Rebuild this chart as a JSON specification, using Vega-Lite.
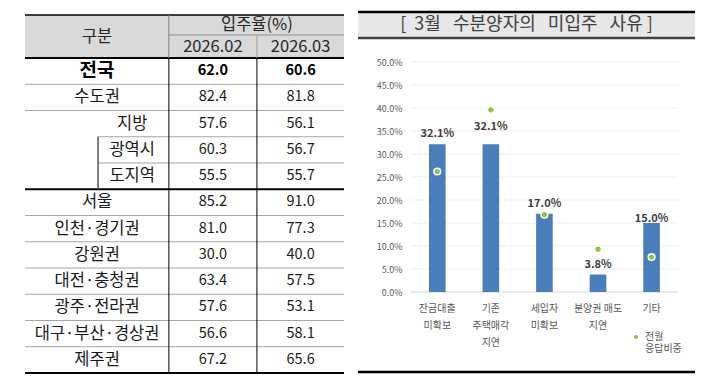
{
  "$schema": "https://vega.github.io/schema/vega-lite/v6.json",
  "background": "white",
  "padding": {"left": 23, "top": 10, "right": 0, "bottom": 0},
  "config": {
    "view": {"stroke": null},
    "font": "Noto Sans CJK KR",
    "text": {"font": "Noto Sans CJK KR"},
    "axis": {"labelFont": "Noto Sans CJK KR"},
    "legend": {"labelFont": "Noto Sans CJK KR"}
  },
  "datasets": {
    "occupancy": [
      {"region": "전국", "m02": 62.0, "m03": 60.6},
      {"region": "수도권", "m02": 82.4, "m03": 81.8},
      {"region": "지방", "m02": 57.6, "m03": 56.1},
      {"region": "광역시", "m02": 60.3, "m03": 56.7},
      {"region": "도지역", "m02": 55.5, "m03": 55.7},
      {"region": "서울", "m02": 85.2, "m03": 91.0},
      {"region": "인천·경기권", "m02": 81.0, "m03": 77.3},
      {"region": "강원권", "m02": 30.0, "m03": 40.0},
      {"region": "대전·충청권", "m02": 63.4, "m03": 57.5},
      {"region": "광주·전라권", "m02": 57.6, "m03": 53.1},
      {"region": "대구·부산·경상권", "m02": 56.6, "m03": 58.1},
      {"region": "제주권", "m02": 67.2, "m03": 65.6}
    ],
    "header": [
      {"h": "구분", "col": "label"},
      {"h": "입주율(%)", "col": "group"},
      {"h": "2026.02", "col": "m02"},
      {"h": "2026.03", "col": "m03"}
    ],
    "reasons": [
      {"reason": "잔금대출 미확보", "share": 0.321, "prev": 0.262},
      {"reason": "기존 주택매각 지연", "share": 0.321, "prev": 0.396},
      {"reason": "세입자 미확보", "share": 0.170, "prev": 0.168},
      {"reason": "분양권 매도 지연", "share": 0.038, "prev": 0.093},
      {"reason": "기타", "share": 0.150, "prev": 0.076}
    ],
    "ticks": [
      {"tick": 0}, {"tick": 0.05}, {"tick": 0.1}, {"tick": 0.15}, {"tick": 0.2}, {"tick": 0.25},
      {"tick": 0.3}, {"tick": 0.35}, {"tick": 0.4}, {"tick": 0.45}, {"tick": 0.5}
    ],
    "title": [{"title": "[\u00a0\u00a03월\u00a0\u00a0\u00a0수분양자의\u00a0\u00a0\u00a0미입주\u00a0\u00a0\u00a0사유\u00a0]"}]
  },
  "spacing": 10,
  "hconcat": [
    {
      "spacing": 0,
      "bounds": "flush",
      "vconcat": [
        {
          "width": 319,
          "height": 46,
          "data": {"name": "header"},
          "layer": [
            {
              "transform": [{"filter": "datum.col === 'label'"}],
              "mark": {"type": "rect", "color": "#d9d9d9"},
              "encoding": {
                "x": {"datum": 0, "type": "quantitative", "scale": {"domain": [0, 100]}, "axis": null},
                "x2": {"datum": 100},
                "y": {"datum": 0, "type": "quantitative", "scale": {"domain": [0, 2.14]}, "axis": null},
                "y2": {"datum": 2}
              }
            },
            {
              "transform": [{"filter": "datum.col === 'label'"}],
              "mark": {"type": "rule", "color": "#000000", "strokeWidth": 1.5},
              "encoding": {
                "x": {"datum": 0, "type": "quantitative", "scale": {"domain": [0, 100]}, "axis": null},
                "x2": {"datum": 100},
                "y": {"datum": 2, "type": "quantitative", "scale": {"domain": [0, 2.14]}, "axis": null}
              }
            },
            {
              "transform": [{"filter": "datum.col === 'label'"}],
              "mark": {"type": "rule", "color": "#000000", "strokeWidth": 2.2},
              "encoding": {
                "x": {"datum": 0, "type": "quantitative", "scale": {"domain": [0, 100]}, "axis": null},
                "x2": {"datum": 100},
                "y": {"datum": 0, "type": "quantitative", "scale": {"domain": [0, 2.14]}, "axis": null}
              }
            },
            {
              "transform": [{"filter": "datum.col === 'label'"}],
              "mark": {"type": "rule", "color": "#7f7f7f", "strokeWidth": 1},
              "encoding": {
                "x": {"datum": 45.1, "type": "quantitative", "scale": {"domain": [0, 100]}, "axis": null},
                "y": {"datum": 0, "type": "quantitative", "scale": {"domain": [0, 2.14]}, "axis": null},
                "y2": {"datum": 2}
              }
            },
            {
              "transform": [{"filter": "datum.col === 'label'"}],
              "mark": {"type": "rule", "color": "#8c8c8c", "strokeWidth": 1},
              "encoding": {
                "x": {"datum": 45.1, "type": "quantitative", "scale": {"domain": [0, 100]}, "axis": null},
                "x2": {"datum": 100},
                "y": {"datum": 1.07, "type": "quantitative", "scale": {"domain": [0, 2.14]}, "axis": null}
              }
            },
            {
              "transform": [{"filter": "datum.col === 'label'"}],
              "mark": {"type": "rule", "color": "#9a9a9a", "strokeWidth": 1},
              "encoding": {
                "x": {"datum": 72.7, "type": "quantitative", "scale": {"domain": [0, 100]}, "axis": null},
                "y": {"datum": 0, "type": "quantitative", "scale": {"domain": [0, 2.14]}, "axis": null},
                "y2": {"datum": 1.07}
              }
            },
            {
              "transform": [{"filter": "datum.col === 'label'"}],
              "mark": {"type": "text", "fontSize": 16.5, "color": "#262626", "baseline": "middle"},
              "encoding": {
                "x": {"datum": 22.6, "type": "quantitative", "scale": {"domain": [0, 100]}, "axis": null},
                "y": {"datum": 0.98, "type": "quantitative", "scale": {"domain": [0, 2.14]}, "axis": null},
                "text": {"field": "h"}
              }
            },
            {
              "transform": [{"filter": "datum.col === 'group'"}],
              "mark": {"type": "text", "fontSize": 16.5, "color": "#262626", "baseline": "middle"},
              "encoding": {
                "x": {"datum": 72.7, "type": "quantitative", "scale": {"domain": [0, 100]}, "axis": null},
                "y": {"datum": 1.55, "type": "quantitative", "scale": {"domain": [0, 2.14]}, "axis": null},
                "text": {"field": "h"}
              }
            },
            {
              "transform": [{"filter": "datum.col === 'm02'"}],
              "mark": {"type": "text", "fontSize": 16.5, "color": "#262626", "baseline": "middle"},
              "encoding": {
                "x": {"datum": 58.9, "type": "quantitative", "scale": {"domain": [0, 100]}, "axis": null},
                "y": {"datum": 0.52, "type": "quantitative", "scale": {"domain": [0, 2.14]}, "axis": null},
                "text": {"field": "h"}
              }
            },
            {
              "transform": [{"filter": "datum.col === 'm03'"}],
              "mark": {"type": "text", "fontSize": 16.5, "color": "#262626", "baseline": "middle"},
              "encoding": {
                "x": {"datum": 86.4, "type": "quantitative", "scale": {"domain": [0, 100]}, "axis": null},
                "y": {"datum": 0.52, "type": "quantitative", "scale": {"domain": [0, 2.14]}, "axis": null},
                "text": {"field": "h"}
              }
            }
          ]
        },
        {
          "width": 319,
          "height": 315,
          "data": {"name": "occupancy"},
          "encoding": {
            "y": {
              "field": "region", "type": "nominal", "axis": null,
              "scale": {
                "domain": ["전국", "수도권", "지방", "광역시", "도지역", "서울", "인천·경기권", "강원권", "대전·충청권", "광주·전라권", "대구·부산·경상권", "제주권"],
                "paddingInner": 0, "paddingOuter": 0
              }
            }
          },
          "layer": [
            {
              "transform": [{"filter": "indexof(['지방','광역시','도지역','제주권'], datum.region) < 0"}],
              "mark": {"type": "rule", "color": "#a6a6a6", "strokeWidth": 1},
              "encoding": {
                "y": {"field": "region", "type": "nominal", "bandPosition": 1},
                "x": {"datum": 0, "type": "quantitative", "scale": {"domain": [0, 100]}, "axis": null},
                "x2": {"datum": 100}
              }
            },
            {
              "transform": [{"filter": "datum.region === '지방' || datum.region === '광역시'"}],
              "mark": {"type": "rule", "color": "#a6a6a6", "strokeWidth": 1},
              "encoding": {
                "y": {"field": "region", "type": "nominal", "bandPosition": 1},
                "x": {"datum": 22.9, "type": "quantitative", "scale": {"domain": [0, 100]}, "axis": null},
                "x2": {"datum": 100}
              }
            },
            {
              "transform": [{"filter": "datum.region === '도지역' || datum.region === '제주권'"}],
              "mark": {"type": "rule", "color": "#000000", "strokeWidth": 2.2},
              "encoding": {
                "y": {"field": "region", "type": "nominal", "bandPosition": 1},
                "x": {"datum": 0, "type": "quantitative", "scale": {"domain": [0, 100]}, "axis": null},
                "x2": {"datum": 100}
              }
            },
            {
              "transform": [{"filter": "datum.region === '광역시' || datum.region === '도지역'"}],
              "mark": {"type": "rect", "fill": "transparent", "stroke": "#555555", "strokeWidth": 1},
              "encoding": {
                "x": {"datum": 22.9, "type": "quantitative", "scale": {"domain": [0, 100]}, "axis": null},
                "x2": {"datum": 22.9}
              }
            },
            {
              "transform": [{"filter": "datum.region === '전국'"}],
              "mark": {"type": "rule", "color": "#000000", "strokeWidth": 1},
              "encoding": {
                "x": {"datum": 45.1, "type": "quantitative", "scale": {"domain": [0, 100]}, "axis": null},
                "y": null
              }
            },
            {
              "transform": [{"filter": "datum.region === '전국'"}],
              "mark": {"type": "rule", "color": "#000000", "strokeWidth": 1},
              "encoding": {
                "x": {"datum": 72.7, "type": "quantitative", "scale": {"domain": [0, 100]}, "axis": null},
                "y": null
              }
            },
            {
              "transform": [{"filter": "indexof(['전국','지방','광역시','도지역'], datum.region) < 0"}],
              "mark": {"type": "text", "fontSize": 16.5, "color": "#1a1a1a", "baseline": "middle"},
              "encoding": {
                "x": {"datum": 22.6, "type": "quantitative", "scale": {"domain": [0, 100]}, "axis": null},
                "text": {"field": "region"}
              }
            },
            {
              "transform": [{"filter": "datum.region === '지방' || datum.region === '광역시' || datum.region === '도지역'"}],
              "mark": {"type": "text", "fontSize": 16.5, "color": "#1a1a1a", "baseline": "middle"},
              "encoding": {
                "x": {"datum": 33.6, "type": "quantitative", "scale": {"domain": [0, 100]}, "axis": null},
                "text": {"field": "region"}
              }
            },
            {
              "transform": [{"filter": "datum.region === '전국'"}],
              "mark": {"type": "text", "fontSize": 19, "fontWeight": "bold", "color": "#000000", "baseline": "middle"},
              "encoding": {
                "x": {"datum": 22.6, "type": "quantitative", "scale": {"domain": [0, 100]}, "axis": null},
                "text": {"field": "region"}
              }
            },
            {
              "transform": [{"filter": "datum.region !== '전국'"}],
              "mark": {"type": "text", "fontSize": 14.5, "color": "#1a1a1a", "baseline": "middle"},
              "encoding": {
                "x": {"datum": 58.9, "type": "quantitative", "scale": {"domain": [0, 100]}, "axis": null},
                "text": {"field": "m02", "format": ".1f"}
              }
            },
            {
              "transform": [{"filter": "datum.region !== '전국'"}],
              "mark": {"type": "text", "fontSize": 14.5, "color": "#1a1a1a", "baseline": "middle"},
              "encoding": {
                "x": {"datum": 86.4, "type": "quantitative", "scale": {"domain": [0, 100]}, "axis": null},
                "text": {"field": "m03", "format": ".1f"}
              }
            },
            {
              "transform": [{"filter": "datum.region === '전국'"}],
              "mark": {"type": "text", "fontSize": 14.5, "fontWeight": "bold", "color": "#000000", "baseline": "middle"},
              "encoding": {
                "x": {"datum": 58.9, "type": "quantitative", "scale": {"domain": [0, 100]}, "axis": null},
                "text": {"field": "m02", "format": ".1f"}
              }
            },
            {
              "transform": [{"filter": "datum.region === '전국'"}],
              "mark": {"type": "text", "fontSize": 14.5, "fontWeight": "bold", "color": "#000000", "baseline": "middle"},
              "encoding": {
                "x": {"datum": 86.4, "type": "quantitative", "scale": {"domain": [0, 100]}, "axis": null},
                "text": {"field": "m03", "format": ".1f"}
              }
            }
          ]
        }
      ]
    },
    {
      "spacing": 24,
      "bounds": "flush",
      "vconcat": [
        {
          "width": 337,
          "height": 26,
          "data": {"name": "title"},
          "layer": [
            {
              "mark": {"type": "rect", "color": "#e7e7e7"},
              "encoding": {
                "x": {"datum": 0, "type": "quantitative", "scale": {"domain": [0, 1]}, "axis": null},
                "x2": {"datum": 1},
                "y": {"datum": 0, "type": "quantitative", "scale": {"domain": [0, 1]}, "axis": null},
                "y2": {"datum": 1}
              }
            },
            {
              "mark": {"type": "rule", "color": "#000000", "strokeWidth": 2.5},
              "encoding": {
                "x": {"datum": 0, "type": "quantitative", "scale": {"domain": [0, 1]}, "axis": null},
                "x2": {"datum": 1},
                "y": {"datum": 1, "type": "quantitative", "scale": {"domain": [0, 1]}, "axis": null}
              }
            },
            {
              "mark": {"type": "rule", "color": "#404040", "strokeWidth": 2.5},
              "encoding": {
                "x": {"datum": 0, "type": "quantitative", "scale": {"domain": [0, 1]}, "axis": null},
                "x2": {"datum": 1},
                "y": {"datum": 0, "type": "quantitative", "scale": {"domain": [0, 1]}, "axis": null}
              }
            },
            {
              "mark": {"type": "text", "fontSize": 18, "color": "#404040", "baseline": "middle"},
              "encoding": {
                "x": {"datum": 0.5, "type": "quantitative", "scale": {"domain": [0, 1]}, "axis": null},
                "y": {"datum": 0.5, "type": "quantitative", "scale": {"domain": [0, 1]}, "axis": null},
                "text": {"field": "title"}
              }
            }
          ]
        },
        {
          "width": 337,
          "height": 230,
          "resolve": {"scale": {"x": "independent"}, "axis": {"x": "independent"}},
          "layer": [
            {
              "data": {"name": "ticks"},
              "mark": {"type": "rule", "strokeWidth": 1},
              "encoding": {
                "y": {
                  "field": "tick", "type": "quantitative",
                  "scale": {"domain": [0, 0.5]},
                  "axis": {
                    "title": null, "format": ".1%", "tickCount": 10,
                    "offset": -53, "labelPadding": 9, "ticks": false, "tickSize": 0, "domain": false, "grid": false,
                    "labelOverlap": false, "labelFlush": false, "labelBound": false,
                    "labelFontSize": 9, "labelColor": "#595959"
                  }
                },
                "x": {"datum": 0.1573, "type": "quantitative", "scale": {"domain": [0, 1]}, "axis": null},
                "x2": {"datum": 0.9496},
                "color": {"condition": {"test": "datum.tick === 0", "value": "#d4d4d4"}, "value": "#efefef"}
              }
            },
            {
              "data": {"name": "reasons"},
              "encoding": {
                "x": {
                  "field": "reason", "type": "nominal", "sort": null,
                  "scale": {"paddingInner": 0.69, "paddingOuter": 0.99, "align": 0.669},
                  "axis": {
                    "title": null, "domain": false, "ticks": false, "labelAngle": 0,
                    "labelExpr": "datum.value == '분양권 매도 지연' ? ['분양권 매도', '지연'] : split(datum.value, ' ')",
                    "labelFontSize": 10, "labelLineHeight": 17, "labelPadding": 11, "labelColor": "#595959"
                  }
                }
              },
              "layer": [
                {
                  "mark": {"type": "bar", "color": "#4a7ebb"},
                  "encoding": {
                    "y": {
                      "field": "share", "type": "quantitative", "scale": {"domain": [0, 0.5]},
                      "axis": {
                        "title": null, "format": ".1%", "tickCount": 10,
                        "offset": -53, "labelPadding": 9, "ticks": false, "tickSize": 0, "domain": false, "grid": false,
                        "labelOverlap": false, "labelFlush": false, "labelBound": false,
                        "labelFontSize": 9, "labelColor": "#595959"
                      }
                    }
                  }
                },
                {
                  "transform": [{"filter": "datum.reason !== '기존 주택매각 지연' && datum.reason !== '기타'"}],
                  "mark": {"type": "text", "fontSize": 11, "fontWeight": "bold", "color": "#404040", "dy": -10},
                  "encoding": {
                    "y": {"field": "share", "type": "quantitative", "scale": {"domain": [0, 0.5]}},
                    "text": {"field": "share", "format": ".1%"}
                  }
                },
                {
                  "transform": [{"filter": "datum.reason === '기존 주택매각 지연'"}],
                  "mark": {"type": "text", "fontSize": 11, "fontWeight": "bold", "color": "#404040", "dy": -17},
                  "encoding": {
                    "y": {"field": "share", "type": "quantitative", "scale": {"domain": [0, 0.5]}},
                    "text": {"field": "share", "format": ".1%"}
                  }
                },
                {
                  "transform": [{"filter": "datum.reason === '기타'"}],
                  "mark": {"type": "text", "fontSize": 11, "fontWeight": "bold", "color": "#404040", "dy": -4},
                  "encoding": {
                    "y": {"field": "share", "type": "quantitative", "scale": {"domain": [0, 0.5]}},
                    "text": {"field": "share", "format": ".1%"}
                  }
                },
                {
                  "mark": {"type": "point", "filled": true, "size": 45, "stroke": "white", "strokeWidth": 1.5, "opacity": 1},
                  "encoding": {
                    "y": {"field": "prev", "type": "quantitative", "scale": {"domain": [0, 0.5]}},
                    "color": {
                      "datum": "전월 응답비중",
                      "scale": {"range": ["#8dc641"]},
                      "legend": {
                        "orient": "none", "legendX": 606, "legendY": 320, "title": null,
                        "symbolType": "circle", "symbolSize": 18, "symbolStrokeWidth": 0,
                        "labelFontSize": 10, "labelColor": "#595959", "labelLineHeight": 17,
                        "labelExpr": "['전월', '응답비중']", "labelBaseline": "middle"
                      }
                    }
                  }
                }
              ]
            }
          ]
        },
        {
          "width": 337,
          "height": 56,
          "data": {"name": "title"},
          "mark": {"type": "rule", "color": "#000000", "strokeWidth": 2.5},
          "encoding": {
            "x": {"datum": 0, "type": "quantitative", "scale": {"domain": [0, 1]}, "axis": null},
            "x2": {"datum": 1},
            "y": {"datum": 0, "type": "quantitative", "scale": {"domain": [0, 1]}, "axis": null}
          }
        }
      ]
    }
  ]
}
